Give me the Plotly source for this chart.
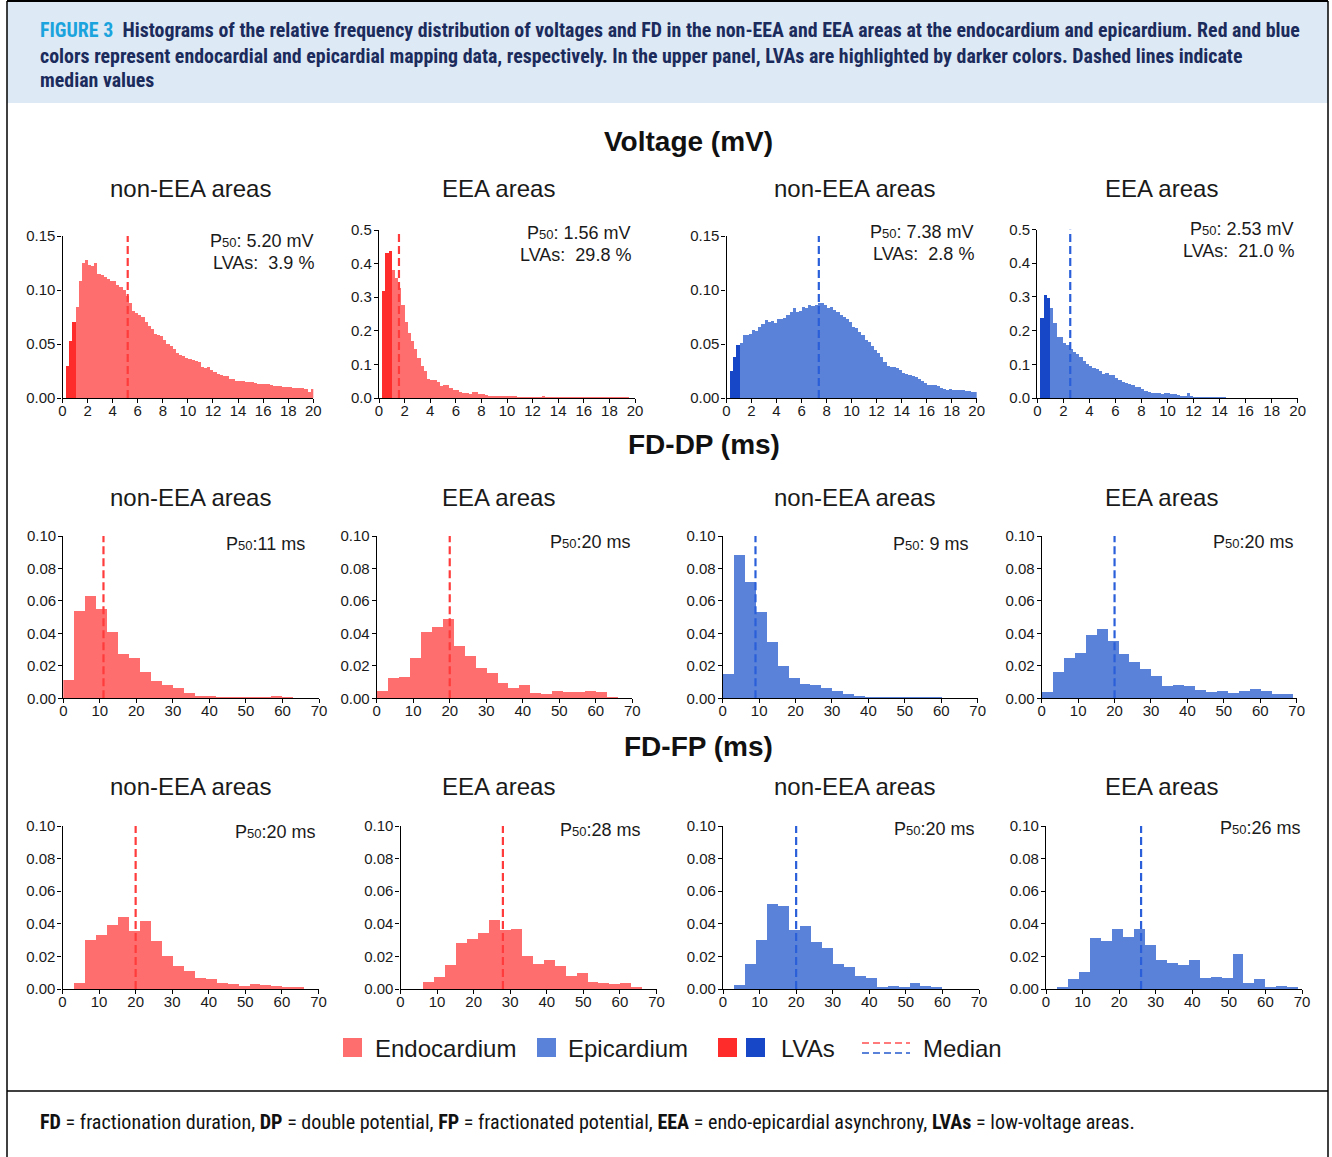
import numpy as np
import plotly.graph_objects as go

# ---------------- data ----------------
area_titles = ["non-EEA areas", "EEA areas", "non-EEA areas", "EEA areas"]
section_titles = ["Voltage (mV)", "FD-DP (ms)", "FD-FP (ms)"]

VOLT_BIN = 0.25   # mV
FD_BIN = 3.0      # ms
LVA_CUTOFF = 1.0  # mV

volt_nonEEA_endo = [0, 0.030, 0.053, 0.070, 0.084, 0.108, 0.125, 0.1275, 0.123, 0.122, 0.125,
    0.115, 0.114, 0.112, 0.110, 0.108, 0.108, 0.105, 0.103, 0.100, 0.094,
    0.088, 0.081, 0.079, 0.077, 0.075, 0.070, 0.067, 0.064, 0.059, 0.058,
    0.057, 0.054, 0.050, 0.048, 0.045, 0.042, 0.040, 0.039, 0.0375, 0.036,
    0.0355, 0.034, 0.033, 0.029, 0.028, 0.029, 0.0255, 0.024, 0.022, 0.0215,
    0.0205, 0.020, 0.018, 0.0175, 0.016, 0.0155, 0.0155, 0.015, 0.015, 0.0145,
    0.014, 0.013, 0.013, 0.013, 0.013, 0.012, 0.0115, 0.0115, 0.011, 0.0105,
    0.0105, 0.0098, 0.009, 0.009, 0.009, 0.009, 0.008, 0.006, 0.008]
volt_EEA_endo = [0, 0.318, 0.433, 0.438, 0.381, 0.358, 0.326, 0.278, 0.227, 0.192, 0.170,
    0.147, 0.119, 0.095, 0.080, 0.058, 0.053, 0.055, 0.048, 0.036, 0.038,
    0.038, 0.031, 0.025, 0.023, 0.019, 0.016, 0.015, 0.013, 0.017, 0.017,
    0.013, 0.013, 0.008, 0.007, 0.006, 0.006, 0.005, 0.005, 0.004, 0.004,
    0.003, 0.003, 0.0025, 0.002, 0.002, 0.002, 0.0015, 0.0015, 0.001, 0.001,
    0.003, 0.002, 0.001, 0.001, 0.001, 0.001, 0.0008, 0.0008, 0.0008, 0.0006,
    0.0006, 0.0005, 0.0005, 0.0005, 0.0004, 0.0004, 0.0003, 0.0003, 0.0002, 0.0002,
    0.0002, 0.0002, 0.0001, 0.0001, 0.0001, 0.0001, 0.0001, 0, 0]
volt_nonEEA_epi = [0, 0.0246, 0.0384, 0.049, 0.0507, 0.058, 0.058, 0.059, 0.063, 0.062, 0.066,
    0.0685, 0.072, 0.0707, 0.0716, 0.069, 0.0729, 0.0729, 0.0738, 0.0769, 0.0793,
    0.083, 0.080, 0.081, 0.084, 0.083, 0.086, 0.085, 0.086, 0.0876, 0.0876,
    0.086, 0.083, 0.084, 0.0815, 0.080, 0.077, 0.0753, 0.073, 0.0707, 0.0655,
    0.0646, 0.0615, 0.058, 0.054, 0.052, 0.048, 0.0446, 0.0415, 0.0378, 0.0338,
    0.0298, 0.0286, 0.0286, 0.0277, 0.0255, 0.023, 0.0224, 0.0215, 0.020, 0.019,
    0.0175, 0.0154, 0.0138, 0.0123, 0.0117, 0.0117, 0.0108, 0.0092, 0.0083, 0.0077,
    0.0083, 0.0077, 0.0077, 0.007, 0.007, 0.0068, 0.0065, 0.006, 0.0058]
volt_EEA_epi = [0, 0.238, 0.308, 0.298, 0.268, 0.223, 0.183, 0.183, 0.166, 0.159, 0.1465,
    0.137, 0.132, 0.122, 0.112, 0.102, 0.097, 0.092, 0.089, 0.082, 0.074,
    0.077, 0.070, 0.070, 0.062, 0.055, 0.050, 0.0455, 0.0425, 0.0386, 0.0356,
    0.0327, 0.0277, 0.0228, 0.0198, 0.0178, 0.0178, 0.0158, 0.0129, 0.0149, 0.0149,
    0.0129, 0.0119, 0.011, 0.008, 0.008, 0.015, 0.008, 0.005, 0.005, 0.004,
    0.003, 0.0025, 0.002, 0.002, 0.002, 0.0015, 0.0015, 0.001, 0.001, 0.001,
    0.001, 0.001, 0.001, 0.0008, 0.0008, 0.0006, 0.0006, 0.0005, 0.0005, 0.0004,
    0.0004, 0.0003, 0.0003, 0.0002, 0.0002, 0.0001, 0.0001, 0, 0]

fddp_nonEEA_endo = [0.0113, 0.054, 0.0633, 0.0553, 0.041, 0.0273, 0.0246, 0.016, 0.0107, 0.0082,
    0.0061, 0.0031, 0.0016, 0.0016, 0.0008, 0.0005, 0.0005, 0.0005, 0.0008, 0.0012, 0.0008, 0, 0]
fddp_EEA_endo = [0.0045, 0.0127, 0.0129, 0.0246, 0.0406, 0.044, 0.0488, 0.0322, 0.026, 0.0189,
    0.0154, 0.0092, 0.0066, 0.008, 0.0033, 0.0027, 0.0043, 0.0039, 0.0039, 0.0047, 0.0037, 0.001, 0]
fddp_nonEEA_epi = [0.0148, 0.0883, 0.0717, 0.0533, 0.0348, 0.0199, 0.0127, 0.0088, 0.008, 0.0061,
    0.0047, 0.0027, 0.0016, 0.001, 0.0004, 0.0003, 0.0003, 0.0002, 0.0002, 0.0002, 0.0001, 0, 0]
fddp_EEA_epi = [0.0037, 0.0164, 0.025, 0.0277, 0.0389, 0.0424, 0.0352, 0.027, 0.0221, 0.018,
    0.0139, 0.0078, 0.008, 0.0078, 0.0051, 0.0041, 0.0043, 0.0033, 0.0045, 0.0055, 0.0047, 0.0029, 0.0025]

fdfp_nonEEA_endo = [0, 0.0035, 0.0302, 0.0333, 0.039, 0.0441, 0.0355, 0.042, 0.0296, 0.02,
    0.0144, 0.0113, 0.0066, 0.0062, 0.0035, 0.0031, 0.0018, 0.0031, 0.0023, 0.0018, 0.0014, 0.0008, 0]
fdfp_EEA_endo = [0, 0, 0.0045, 0.0076, 0.0148, 0.0285, 0.0306, 0.0343, 0.0425, 0.0363,
    0.037, 0.02, 0.0152, 0.0179, 0.0144, 0.008, 0.0097, 0.0041, 0.0035, 0.0031, 0.0035, 0.0014, 0]
fdfp_nonEEA_epi = [0, 0.0025, 0.0152, 0.0298, 0.0521, 0.0507, 0.0359, 0.0388, 0.0287, 0.025,
    0.0152, 0.0133, 0.0082, 0.0066, 0.0014, 0.0021, 0.0014, 0.0039, 0.0018, 0.0012, 0, 0, 0]
fdfp_EEA_epi = [0, 0.0014, 0.006, 0.0103, 0.0312, 0.0292, 0.037, 0.0322, 0.0368, 0.0271,
    0.0181, 0.0158, 0.0148, 0.0179, 0.0066, 0.0076, 0.007, 0.0216, 0.0039, 0.006, 0.001, 0.0016, 0.0014]

volt_medians = [5.20, 1.56, 7.38, 2.53]
lva_percent = [3.9, 29.8, 2.8, 21.0]
fddp_medians = [11, 20, 9, 20]
fdfp_medians = [20, 28, 20, 26]

volt_yticks_a = [0.00, 0.05, 0.10, 0.15]
volt_yticks_b = [0.0, 0.1, 0.2, 0.3, 0.4, 0.5]
fd_yticks = [0.00, 0.02, 0.04, 0.06, 0.08, 0.10]
volt_xticks = list(range(0, 21, 2))
fd_xticks = list(range(0, 71, 10))

# ---------------- style ----------------
W, H = 1332, 1157
ENDO, ENDO_D = "#ff6e6e", "#ff2c2c"
EPI, EPI_D = "#5a82d8", "#1747c6"
ENDO_MED, EPI_MED = "#ff3b3b", "#2a5fd9"
FONT = "Liberation Sans, Arial, sans-serif"
NARROW = "Liberation Sans Narrow, Arial Narrow, Roboto Condensed, Liberation Sans, Arial"
TXT = "#1a1a1a"

def px(x):
    return x / W

def py(y):
    return 1 - y / H

# plot-area pixel boxes: (left, right, top, bottom)
boxes = [
    [(62.5, 313.3, 236, 398), (379, 635, 230, 398), (726.5, 976.7, 236, 398), (1037.3, 1297.7, 229.5, 398)],
    [(63.3, 319, 536, 698.3), (376.7, 632.3, 536, 698.3), (722.7, 977.7, 536, 698.3), (1041.7, 1296.7, 536, 698.3)],
    [(62.5, 318.5, 826, 989), (400.5, 656.5, 826, 989), (723, 979, 826, 989), (1046, 1302, 826, 989)],
]
subtitle_y = [188, 497, 787]
subtitle_x = [191, 498, 854, 1161]
section_pos = [(688, 141), (704, 445), (698, 746)]
ann_right = [[316, 633, 976, 1296], [307, 633, 971, 1296], [318, 643, 977, 1303]]
ann_y = [[241, 233, 232, 229], [544, 542, 544, 542], [832, 830, 829, 828]]

volt_series = [volt_nonEEA_endo, volt_EEA_endo, volt_nonEEA_epi, volt_EEA_epi]
fddp_series = [fddp_nonEEA_endo, fddp_EEA_endo, fddp_nonEEA_epi, fddp_EEA_epi]
fdfp_series = [fdfp_nonEEA_endo, fdfp_EEA_endo, fdfp_nonEEA_epi, fdfp_EEA_epi]

fig = go.Figure()
layout = {}
annotations = []
shapes = []

P50 = "P<span style='font-size:13px'>50</span>"

idx = 0
for r in range(3):
    for c in range(4):
        idx += 1
        xa = "x" if idx == 1 else f"x{idx}"
        ya = "y" if idx == 1 else f"y{idx}"
        is_endo = c < 2
        base = ENDO if is_endo else EPI
        dark = ENDO_D if is_endo else EPI_D
        medc = ENDO_MED if is_endo else EPI_MED
        if r == 0:
            vals = np.array(volt_series[c])
            bw = VOLT_BIN
            xmax = 20
            xt = volt_xticks
            yt = volt_yticks_a if c in (0, 2) else volt_yticks_b
            yfmt = ".2f" if c in (0, 2) else ".1f"
            med = volt_medians[c]
        else:
            vals = np.array((fddp_series if r == 1 else fdfp_series)[c])
            bw = FD_BIN
            xmax = 70
            xt = fd_xticks
            yt = fd_yticks
            yfmt = ".2f"
            med = (fddp_medians if r == 1 else fdfp_medians)[c]
        left = np.arange(len(vals)) * bw
        centers = left + bw / 2
        if r == 0:
            cols = [dark if l < LVA_CUTOFF else base for l in left]
        else:
            cols = [base] * len(vals)
        ymax = yt[-1]
        fig.add_trace(go.Bar(x=centers, y=vals, width=bw, marker=dict(color=cols, line=dict(width=0)),
                             xaxis=xa, yaxis=ya, showlegend=False, hoverinfo="skip"))
        fig.add_trace(go.Scatter(x=[med, med], y=[0, ymax], mode="lines",
                                 line=dict(color=medc, width=2.2, dash="8px,4px"),
                                 xaxis=xa, yaxis=ya, showlegend=False, hoverinfo="skip"))
        L, R, T, B = boxes[r][c]
        layout["xaxis" if idx == 1 else f"xaxis{idx}"] = dict(
            domain=[px(L), px(R)], range=[0, xmax], anchor=ya, tickvals=xt, automargin=False,
            showline=True, linecolor="black", linewidth=1.2, ticks="outside", ticklen=4,
            tickcolor="black", showgrid=False, zeroline=False, ticklabelstandoff=-5,
            tickfont=dict(family=FONT, size=15, color=TXT), fixedrange=True)
        layout["yaxis" if idx == 1 else f"yaxis{idx}"] = dict(
            domain=[py(B), py(T)], range=[0, ymax], anchor=xa, tickvals=yt, tickformat=yfmt,
            automargin=False, ticklabelstandoff=-1,
            showline=True, linecolor="black", linewidth=1.2, ticks="outside", ticklen=4,
            tickcolor="black", showgrid=False, zeroline=False,
            tickfont=dict(family=FONT, size=15, color=TXT), fixedrange=True)
        # subplot title
        annotations.append(dict(x=px(subtitle_x[c]), y=py(subtitle_y[r]), xref="paper", yref="paper",
                                text=area_titles[c], showarrow=False, xanchor="center", yanchor="middle",
                                font=dict(family=FONT, size=24, color=TXT)))
        # median / LVA text
        if r == 0:
            annotations.append(dict(x=px(ann_right[r][c]), y=py(ann_y[r][c]), xref="paper", yref="paper",
                                    text=f"{P50}: {med:.2f} mV", showarrow=False, xanchor="right",
                                    yanchor="middle", font=dict(family=FONT, size=18, color=TXT)))
            annotations.append(dict(x=px(ann_right[r][c]), y=py(ann_y[r][c] + 22), xref="paper", yref="paper",
                                    text=f"LVAs:  {lva_percent[c]:.1f} %", showarrow=False, xanchor="right",
                                    yanchor="middle", font=dict(family=FONT, size=18, color=TXT)))
        else:
            sep = ": " if med < 10 else ":"
            annotations.append(dict(x=px(ann_right[r][c]), y=py(ann_y[r][c]), xref="paper", yref="paper",
                                    text=f"{P50}{sep}{med} ms", showarrow=False, xanchor="right",
                                    yanchor="middle", font=dict(family=FONT, size=18, color=TXT)))

for (sx, sy), t in zip(section_pos, section_titles):
    annotations.append(dict(x=px(sx), y=py(sy), xref="paper", yref="paper", text=f"<b>{t}</b>",
                            showarrow=False, xanchor="center", yanchor="middle",
                            font=dict(family=FONT, size=28, color="#111111")))

# ---------- frame, header, footer ----------
shapes.append(dict(type="rect", xref="paper", yref="paper", x0=px(7), x1=px(1328), y0=py(2), y1=py(103),
                   fillcolor="#dde9f5", line=dict(width=0), layer="below"))
shapes.append(dict(type="line", xref="paper", yref="paper", x0=px(7), x1=px(1328), y0=py(1), y1=py(1),
                   line=dict(color="black", width=2)))
shapes.append(dict(type="line", xref="paper", yref="paper", x0=px(7), x1=px(7), y0=py(1), y1=py(1160),
                   line=dict(color="black", width=1.5)))
shapes.append(dict(type="line", xref="paper", yref="paper", x0=px(1328), x1=px(1328), y0=py(1), y1=py(1160),
                   line=dict(color="black", width=1.5)))
shapes.append(dict(type="line", xref="paper", yref="paper", x0=px(7), x1=px(1328), y0=py(1091), y1=py(1091),
                   line=dict(color="black", width=1.5)))

NAVY = "#1b2b5c"
header_lines = [
    "<span style='color:#1aa3dc'>FIGURE 3</span>  Histograms of the relative frequency distribution of voltages and FD in the non-EEA and EEA areas at the endocardium and epicardium. Red and blue",
    "colors represent endocardial and epicardial mapping data, respectively. In the upper panel, LVAs are highlighted by darker colors. Dashed lines indicate",
    "median values",
]
for i, line in enumerate(header_lines):
    annotations.append(dict(x=px(38), y=py(31 + 25 * i), xref="paper", yref="paper", text=f"<b>{line}</b>",
                            showarrow=False, xanchor="left", yanchor="middle",
                            font=dict(family=NARROW, size=19.9, color=NAVY)))

footer = ("<b>FD</b> = fractionation duration, <b>DP</b> = double potential, <b>FP</b> = fractionated potential, "
          "<b>EEA</b> = endo-epicardial asynchrony, <b>LVAs</b> = low-voltage areas.")
annotations.append(dict(x=px(38), y=py(1122), xref="paper", yref="paper", text=footer, showarrow=False,
                        xanchor="left", yanchor="middle", font=dict(family=NARROW, size=20.1, color="#111111")))

# ---------- custom legend ----------
LEG_Y = 1048
def square(x0, color):
    shapes.append(dict(type="rect", xref="paper", yref="paper", x0=px(x0), x1=px(x0 + 19),
                       y0=py(LEG_Y + 9), y1=py(LEG_Y - 10), fillcolor=color, line=dict(width=0)))
square(343, ENDO)
square(537, EPI)
square(718, ENDO_D)
square(746, EPI_D)
shapes.append(dict(type="line", xref="paper", yref="paper", x0=px(862), x1=px(910), y0=py(LEG_Y - 5),
                   y1=py(LEG_Y - 5), line=dict(color="#ff7a7a", width=2, dash="7px,4px")))
shapes.append(dict(type="line", xref="paper", yref="paper", x0=px(862), x1=px(910), y0=py(LEG_Y + 5),
                   y1=py(LEG_Y + 5), line=dict(color="#5a82d8", width=2, dash="7px,4px")))
for x0, t in [(373, "Endocardium"), (566, "Epicardium"), (779, "LVAs"), (921, "Median")]:
    annotations.append(dict(x=px(x0), y=py(LEG_Y), xref="paper", yref="paper", text=t, showarrow=False,
                            xanchor="left", yanchor="middle", font=dict(family=FONT, size=24, color=TXT)))

fig.update_layout(
    width=W, height=H, margin=dict(l=0, r=0, t=0, b=0, pad=0, autoexpand=False), autosize=False,
    paper_bgcolor="white", plot_bgcolor="rgba(0,0,0,0)",
    bargap=0, barmode="overlay",
    annotations=annotations, shapes=shapes, showlegend=False,
    **layout,
)

fig.write_html("out.html", config={"displayModeBar": False})
